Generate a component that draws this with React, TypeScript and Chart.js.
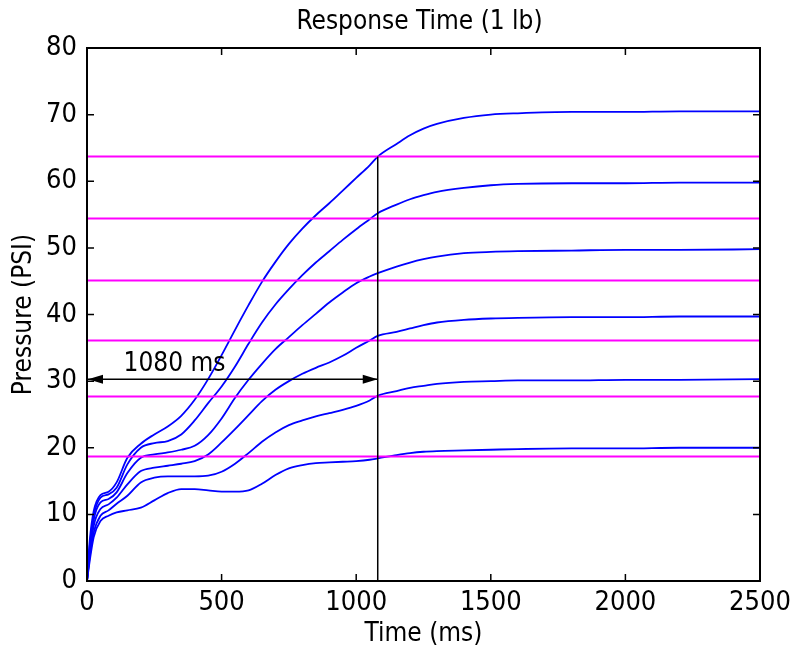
import React, { useEffect, useRef } from 'react';
import { Chart, registerables } from 'chart.js';

Chart.register(...registerables);

// Time samples (ms)
const TIME = [0, 10, 25, 50, 80, 110, 150, 200, 250, 300, 350, 400, 450, 500, 550, 600, 650, 700, 750, 800, 850, 900, 950, 1000, 1050, 1080, 1150, 1200, 1250, 1300, 1400, 1500, 1600, 1800, 2000, 2200, 2500];

// Pressure traces (PSI), top to bottom
const P70 = [0, 6.0, 10.5, 12.9, 13.4, 14.8, 18.5, 20.6, 22.0, 23.2, 24.8, 27.2, 30.3, 33.9, 37.7, 41.4, 44.9, 47.9, 50.6, 52.9, 54.9, 56.7, 58.6, 60.5, 62.4, 63.7, 65.6, 66.9, 67.9, 68.6, 69.5, 70.0, 70.2, 70.4, 70.4, 70.5, 70.5];
const P60 = [0, 5.2, 9.8, 12.5, 13.0, 14.0, 17.5, 20.0, 20.7, 21.0, 22.0, 24.1, 26.7, 29.2, 32.2, 35.6, 38.8, 41.5, 43.8, 45.9, 47.8, 49.5, 51.2, 52.8, 54.3, 55.2, 56.5, 57.3, 57.9, 58.4, 59.0, 59.4, 59.6, 59.7, 59.7, 59.8, 59.8];
const P50 = [0, 4.6, 9.2, 11.8, 12.3, 13.3, 16.2, 18.5, 19.0, 19.3, 19.7, 20.3, 21.9, 24.4, 27.5, 30.2, 32.6, 34.8, 36.6, 38.4, 40.1, 41.8, 43.3, 44.7, 45.7, 46.2, 47.2, 47.8, 48.3, 48.7, 49.2, 49.4, 49.5, 49.6, 49.7, 49.7, 49.8];
const P40 = [0, 4.0, 8.3, 10.8, 11.5, 12.5, 14.5, 16.5, 17.0, 17.3, 17.6, 18.0, 19.0, 20.8, 22.8, 24.9, 27.0, 28.7, 30.0, 31.1, 32.0, 32.8, 33.8, 35.0, 36.1, 36.8, 37.4, 37.9, 38.4, 38.8, 39.2, 39.4, 39.5, 39.6, 39.6, 39.7, 39.7];
const P30 = [0, 3.6, 7.3, 9.8, 10.6, 11.6, 12.8, 14.8, 15.5, 15.7, 15.7, 15.7, 15.8, 16.4, 17.6, 19.2, 20.9, 22.3, 23.4, 24.1, 24.7, 25.2, 25.7, 26.3, 27.1, 27.8, 28.5, 29.0, 29.3, 29.6, 29.9, 30.0, 30.1, 30.1, 30.2, 30.2, 30.3];
const P20 = [0, 3.0, 6.6, 9.0, 9.8, 10.3, 10.6, 11.0, 12.1, 13.2, 13.8, 13.8, 13.6, 13.4, 13.4, 13.6, 14.6, 15.9, 16.9, 17.4, 17.7, 17.8, 17.9, 18.0, 18.2, 18.4, 18.9, 19.2, 19.4, 19.5, 19.6, 19.7, 19.8, 19.9, 19.9, 20.0, 20.0];

// 90% threshold levels (PSI)
const THRESHOLDS = [63.7, 54.4, 45.1, 36.1, 27.7, 18.7];

// Response-time marker
const RESPONSE_MS = 1080;
const MARKER_TOP = 63.7;
const ARROW_Y = 30.3;
const LABEL_X = 325;
const LABEL_Y = 32.6;
const LABEL_TEXT = '1080 ms';

const TITLE_TEXT = 'Response Time (1 lb)';
const X_TICKS = [0, 500, 1000, 1500, 2000, 2500];
const Y_TICKS = [0, 10, 20, 30, 40, 50, 60, 70, 80];

const FONT = "'Liberation Sans Narrow', 'Arial Narrow', 'DejaVu Sans Condensed', sans-serif";
const FONT_SIZE = 26;
const TICK_FONT_SIZE = 27;

const framePlugin = {
  id: 'frameAndMarks',
  afterDatasetsDraw(chart: any) {
    const { ctx, chartArea: a, scales } = chart;
    const xs = scales.x;
    const ys = scales.y;
    ctx.save();
    // title, centred over the axes
    ctx.fillStyle = '#000';
    ctx.font = `${FONT_SIZE}px ${FONT}`;
    ctx.textAlign = 'center';
    ctx.textBaseline = 'middle';
    ctx.fillText(TITLE_TEXT, (a.left + a.right) / 2 - 4, 22);
    // arrowheads
    const yA = ys.getPixelForValue(ARROW_Y);
    const x0 = xs.getPixelForValue(0);
    const x1 = xs.getPixelForValue(RESPONSE_MS);
    ctx.beginPath();
    ctx.moveTo(x0 + 1, yA);
    ctx.lineTo(x0 + 16, yA - 4.5);
    ctx.lineTo(x0 + 16, yA + 4.5);
    ctx.closePath();
    ctx.fill();
    ctx.beginPath();
    ctx.moveTo(x1, yA);
    ctx.lineTo(x1 - 15, yA - 4.5);
    ctx.lineTo(x1 - 15, yA + 4.5);
    ctx.closePath();
    ctx.fill();
    // label
    ctx.fillText(LABEL_TEXT, xs.getPixelForValue(LABEL_X), ys.getPixelForValue(LABEL_Y));
    // frame
    ctx.strokeStyle = '#000';
    ctx.lineWidth = 2;
    ctx.strokeRect(a.left, a.top, a.right - a.left, a.bottom - a.top);
    // inward ticks
    const tl = 7;
    ctx.lineWidth = 1.5;
    ctx.beginPath();
    X_TICKS.forEach((v) => {
      const px = xs.getPixelForValue(v);
      ctx.moveTo(px, a.bottom);
      ctx.lineTo(px, a.bottom - tl);
      ctx.moveTo(px, a.top);
      ctx.lineTo(px, a.top + tl);
    });
    Y_TICKS.forEach((v) => {
      const py = ys.getPixelForValue(v);
      ctx.moveTo(a.left, py);
      ctx.lineTo(a.left + tl, py);
      ctx.moveTo(a.right, py);
      ctx.lineTo(a.right - tl, py);
    });
    ctx.stroke();
    ctx.restore();
  },
};

export default function App() {
  const ref = useRef<HTMLCanvasElement | null>(null);

  useEffect(() => {
    if (!ref.current) return;
    const toPts = (arr: number[]) => TIME.map((t, i) => ({ x: t, y: arr[i] }));
    const curves = [P70, P60, P50, P40, P30, P20].map((arr) => ({
      data: toPts(arr),
      borderColor: '#0000ff',
      borderWidth: 1.8,
      pointRadius: 0,
      cubicInterpolationMode: 'monotone' as const,
      order: 3,
    }));
    const thresholds = THRESHOLDS.map((v) => ({
      data: [{ x: 0, y: v }, { x: 2500, y: v }],
      borderColor: '#ff00ff',
      borderWidth: 2,
      pointRadius: 0,
      order: 2,
    }));
    const marks = [
      {
        data: [{ x: RESPONSE_MS, y: 0 }, { x: RESPONSE_MS, y: MARKER_TOP }],
        borderColor: '#000',
        borderWidth: 1.5,
        pointRadius: 0,
        order: 1,
      },
      {
        data: [{ x: 0, y: ARROW_Y }, { x: RESPONSE_MS, y: ARROW_Y }],
        borderColor: '#000',
        borderWidth: 1.5,
        pointRadius: 0,
        order: 1,
      },
    ];

    const chart = new Chart(ref.current, {
      type: 'line',
      data: { datasets: [...marks, ...thresholds, ...curves] as any },
      plugins: [framePlugin],
      options: {
        animation: false,
        responsive: false,
        maintainAspectRatio: false,
        layout: { padding: { left: 0, right: 31, top: 48, bottom: 0 } },
        plugins: {
          legend: { display: false },
          tooltip: { enabled: false },
          title: { display: false },
        },
        scales: {
          x: {
            type: 'linear',
            min: 0,
            max: 2500,
            afterFit: (s: any) => { s.height = 72; s.paddingLeft = 0; s.paddingRight = 0; },
            afterBuildTicks: (s: any) => { s.ticks = X_TICKS.map((v) => ({ value: v })); },
            grid: { display: false, drawTicks: false },
            border: { display: false },
            ticks: {
              color: '#000',
              padding: 6,
              maxRotation: 0,
              font: { family: FONT, size: TICK_FONT_SIZE },
              callback: (v: any) => String(v),
            },
            title: {
              display: true,
              text: 'Time (ms)',
              color: '#000',
              font: { family: FONT, size: FONT_SIZE },
              padding: { top: 0, bottom: 3 },
            },
          },
          y: {
            type: 'linear',
            min: 0,
            max: 80,
            afterFit: (s: any) => { s.width = 87; s.paddingTop = 0; s.paddingBottom = 0; },
            afterBuildTicks: (s: any) => { s.ticks = Y_TICKS.map((v) => ({ value: v })); },
            grid: { display: false, drawTicks: false },
            border: { display: false },
            ticks: {
              color: '#000',
              padding: 10,
              font: { family: FONT, size: TICK_FONT_SIZE },
              callback: (v: any) => String(v),
            },
            title: {
              display: true,
              text: 'Pressure (PSI)',
              color: '#000',
              font: { family: FONT, size: FONT_SIZE },
              padding: { top: 9, bottom: 0 },
            },
          },
        },
      } as any,
    });
    return () => chart.destroy();
  }, []);

  return (
    <div style={{ position: 'fixed', left: 0, top: 0, width: 791, height: 653, background: '#fff' }}>
      <canvas ref={ref} width={791} height={653} />
    </div>
  );
}
